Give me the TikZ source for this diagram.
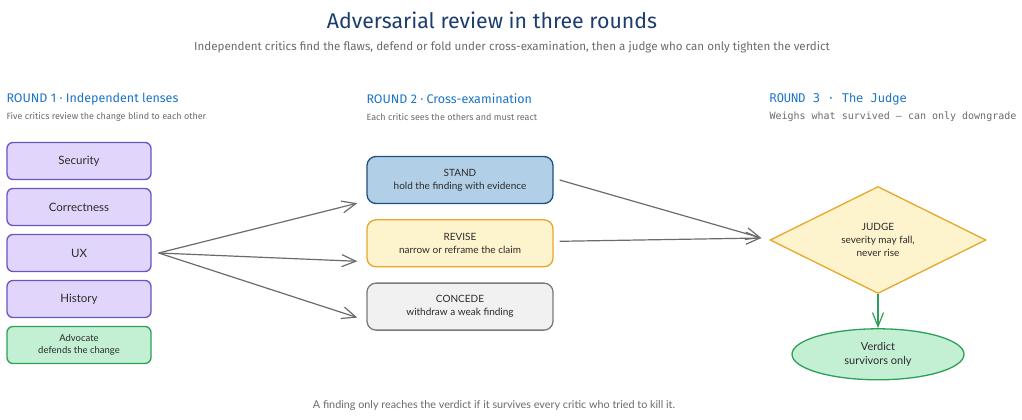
\documentclass[tikz,border=0pt]{standalone}
\usepackage{fontspec}
\setmainfont{Lato}
\newfontfamily\headfont{Fira Sans}
\setmonofont{DejaVu Sans Mono}
\usetikzlibrary{positioning,shapes.geometric,arrows.meta}

\definecolor{titleblue}{HTML}{1C3D6E}
\definecolor{roundblue}{HTML}{1A73C8}
\definecolor{notegray}{HTML}{6A6A6A}
\definecolor{inkdark}{HTML}{2B2B2B}
\definecolor{critfill}{HTML}{E1D5FB}
\definecolor{critline}{HTML}{6A55C0}
\definecolor{advfill}{HTML}{C3F0D3}
\definecolor{advline}{HTML}{2E9E5B}
\definecolor{standfill}{HTML}{B1D0E8}
\definecolor{standline}{HTML}{1F4F80}
\definecolor{revfill}{HTML}{FDF3CC}
\definecolor{revline}{HTML}{E8A72A}
\definecolor{concfill}{HTML}{F1F1F1}
\definecolor{concline}{HTML}{7A7A7A}
\definecolor{arrowgray}{HTML}{6B6B6B}

\begin{document}
\begin{tikzpicture}[x=1pt,y=-1pt,
  critic/.style={draw=critline,fill=critfill,line width=1.3pt,rounded corners=6pt,
    minimum width=144pt,minimum height=37pt,text=inkdark,font=\fontsize{11.5}{13}\selectfont},
  reply/.style={line width=1.3pt,rounded corners=9pt,minimum width=186pt,minimum height=47pt,
    align=center,text=inkdark,font=\fontsize{10}{13}\selectfont},
  roundhead/.style={anchor=west,text=roundblue,font=\headfont\fontsize{12.5}{14}\selectfont},
  roundnote/.style={anchor=west,text=notegray,font=\headfont\fontsize{9}{10}\selectfont},
  flow/.style={draw=arrowgray,line width=1.2pt,-{Straight Barb[length=14pt,width=12pt,line width=1.2pt]}},
  ]

\useasboundingbox (0,0) rectangle (1022,420);

% header
\node[text=titleblue,font=\headfont\fontsize{21.3}{24}\selectfont] (title) at (492,20) {Adversarial review in three rounds};
\node[text=notegray,font=\headfont\fontsize{11.6}{13}\selectfont] (subtitle) at (512,47) {Independent critics find the flaws, defend or fold under cross-examination, then a judge who can only tighten the verdict};

% round 1
\node[roundhead] (r1) at (3,99) {ROUND 1 · Independent lenses};
\node[roundnote] (r1note) at (3,117) {Five critics review the change blind to each other};

\node[critic] (security) at (79,161) {Security};
\node[critic,below=7.7pt of security] (correctness) {Correctness};
\node[critic,below=7.7pt of correctness] (ux) {UX};
\node[critic,below=7.7pt of ux] (history) {History};
\node[critic,below=7.7pt of history,draw=advline,fill=advfill,align=center,font=\fontsize{9.5}{12}\selectfont] (advocate) {Advocate\\defends the change};

% round 2
\node[roundhead] (r2) at (363,99) {ROUND 2 · Cross-examination};
\node[roundnote] (r2note) at (363,117) {Each critic sees the others and must react};

\node[reply,draw=standline,fill=standfill] (stand) at (460,180) {STAND\\hold the finding with evidence};
\node[reply,draw=revline,fill=revfill,below=15pt of stand] (revise) {REVISE\\narrow or reframe the claim};
\node[reply,draw=concline,fill=concfill,below=15pt of revise] (concede) {CONCEDE\\withdraw a weak finding};

\draw[flow] ([xshift=7pt]ux.east) -- ([xshift=-9pt,yshift=1pt]stand.south west);
\draw[flow] ([xshift=7pt]ux.east) -- ([xshift=-9pt,yshift=-18pt]revise.west);
\draw[flow] ([xshift=7pt]ux.east) -- ([xshift=-9pt,yshift=-11pt]concede.west);

% round 3
\node[roundhead,font=\ttfamily\fontsize{12}{14}\selectfont] (r3) at (766,99) {ROUND 3 · The Judge};
\node[roundnote,font=\ttfamily\fontsize{10}{11}\selectfont] (r3note) at (766,117) {Weighs what survived — can only downgrade};

\node[diamond,draw=revline,fill=revfill,line width=1.3pt,minimum width=216pt,minimum height=107pt,
  inner sep=0pt,align=center,text=inkdark,font=\fontsize{10}{13}\selectfont] (judge) at (878,240)
  {JUDGE\\severity may fall,\\never rise};
\node[ellipse,draw=advline,fill=advfill,line width=1.3pt,minimum width=172pt,minimum height=51pt,
  align=center,text=inkdark,font=\fontsize{11}{14}\selectfont,below=34pt of judge] (verdict)
  {Verdict\\survivors only};

\draw[flow] ([xshift=6pt]stand.east) -- ([xshift=-8pt,yshift=2pt]judge.west);
\draw[flow] ([xshift=6pt,yshift=2pt]revise.east) -- ([xshift=-8pt,yshift=2pt]judge.west);
\draw[flow,draw=advline,-{Straight Barb[length=14pt,width=11pt,line width=1.2pt]}] (judge.south) -- (verdict.north);

% footer
\node[text=notegray,font=\fontsize{10.8}{12}\selectfont] (footer) at (494,406) {A finding only reaches the verdict if it survives every critic who tried to kill it.};

\end{tikzpicture}
\end{document}
